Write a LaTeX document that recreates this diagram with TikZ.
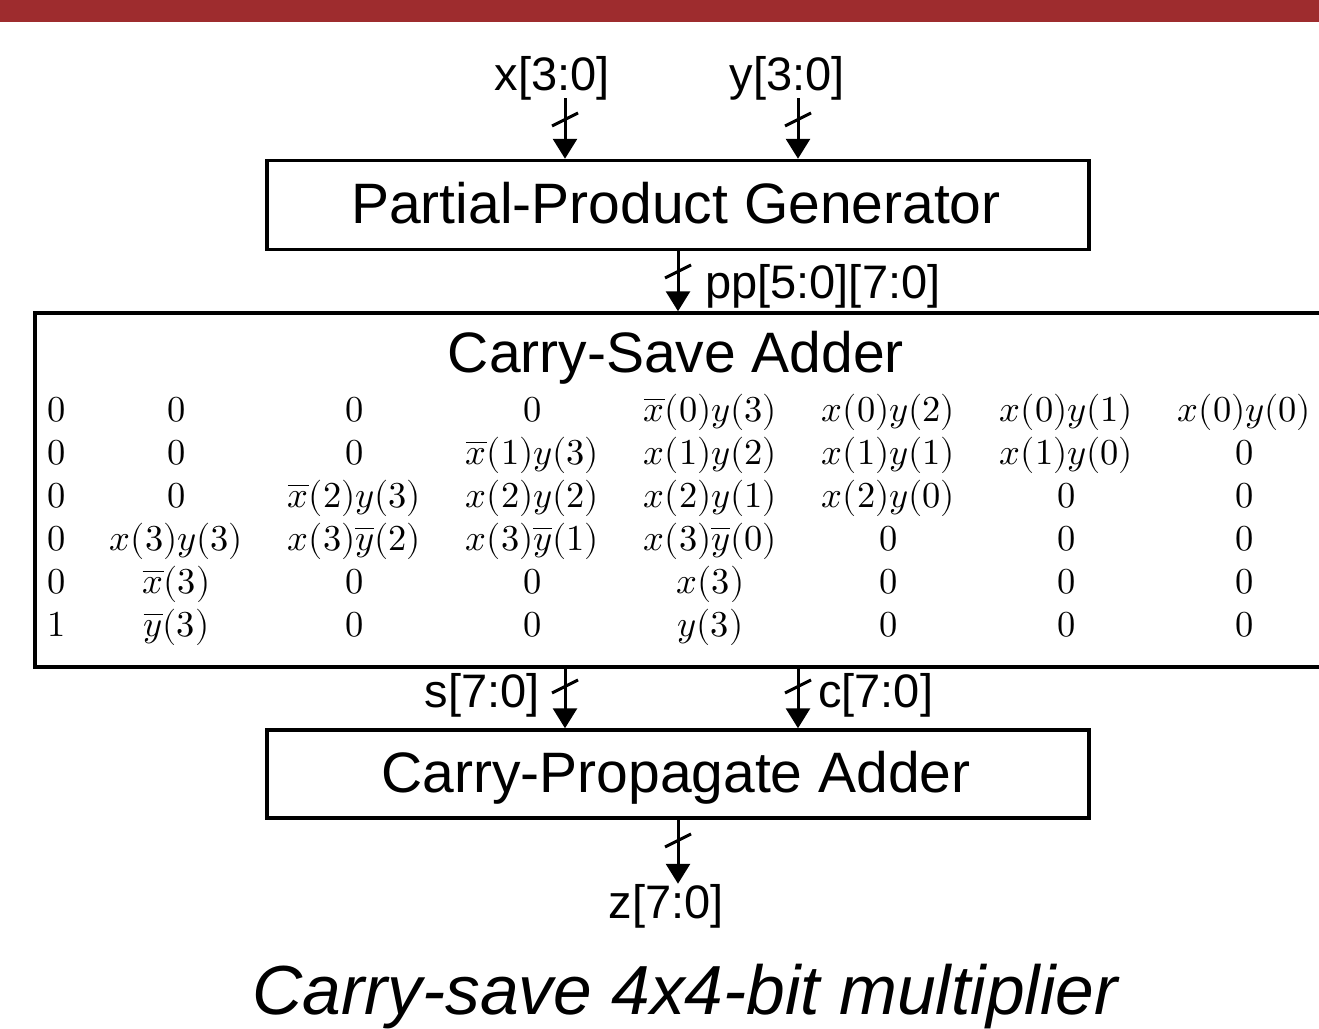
\documentclass[tikz,border=0pt]{standalone}
\usepackage{fontspec}
\setmainfont{Liberation Sans}
\usepackage{unicode-math}
\setmathfont{Latin Modern Math}
\usetikzlibrary{arrows.meta}
\definecolor{barred}{RGB}{158,44,46}
\begin{document}
\begin{tikzpicture}[x=1pt,y=-1pt,
  blk/.style={draw,line width=3.5pt,inner sep=0pt},
  bus/.style={line width=3pt,-{Triangle[length=20pt,width=24pt]}},
  slashst/.style={line width=3pt},
  lbl/.style={font=\fontsize{47}{50}\selectfont,inner sep=0pt,anchor=base},
  ttl/.style={font=\fontsize{57}{60}\selectfont,inner sep=0pt,anchor=base},
  cell/.style={font=\fontsize{36.5}{40}\selectfont,inner sep=0pt,anchor=base}]
\useasboundingbox (0,0) rectangle (1319,1028);
\clip (0,0) rectangle (1319,1028);
\fill[barred] (0,0) rectangle (1319,22);
% boxes
\node[blk,minimum width=822pt,minimum height=89pt] (ppg) at (678,205) {};
\node[blk,minimum width=1330pt,minimum height=354pt] (csa) at (700,490) {};
\node[blk,minimum width=822pt,minimum height=88pt] (cpa) at (678,774) {};
% titles
\node[ttl] (ppgt) at (676,223) {Partial-Product Generator};
\node[ttl] (csat) at (676,372) {Carry-Save Adder};
\node[ttl] (cpat) at (676,792) {Carry-Propagate Adder};
% labels
\node[lbl] (xl) at (552,90) {x[3:0]};
\node[lbl] (yl) at (787,90) {y[3:0]};
\node[lbl,anchor=base west] (ppl) at (705,298) {pp[5:0][7:0]};
\node[lbl,anchor=base east] (sl) at (540,707) {s[7:0]};
\node[lbl,anchor=base west] (cl) at (818,707) {c[7:0]};
\node[lbl] (zl) at (666,918) {z[7:0]};
% arrows
\coordinate (xs) at (565,98);
\coordinate (ys) at (798,98);
\coordinate (pps) at (678,250);
\coordinate (ss) at (565,667);
\coordinate (cs) at (798,667);
\coordinate (zs) at (678,818);
\draw[bus] (xs) -- (xs |- ppg.north);
\draw[bus] (ys) -- (ys |- ppg.north);
\draw[bus] (pps) -- (pps |- csa.north);
\draw[bus] (ss) -- (ss |- cpa.north);
\draw[bus] (cs) -- (cs |- cpa.north);
\draw[bus] (zs) -- (zs |- zl.north);
% slashes
\coordinate (xm) at (565,119);
\coordinate (ym) at (798,119);
\coordinate (ppm) at (678,271);
\coordinate (sm) at (565,686);
\coordinate (cm) at (798,686);
\coordinate (zm) at (678,840);
\foreach \m in {xm,ym,ppm,sm,cm,zm}
  \draw[slashst] ([shift={(-13,7)}]\m) -- ([shift={(13,-6)}]\m);
% table
\def\rowy{{421,464,507,550,593,636}}
\foreach \txt [count=\i] in {0,0,0,0,0,1}
  \node[cell,anchor=base west] (c\i-0) at (47,{\rowy[\i-1]}) {$\txt$};
\foreach \r/\c/\txt in {
 1/1/0, 1/2/0, 1/3/0, 1/4/\overline{x}(0)y(3), 1/5/x(0)y(2), 1/6/x(0)y(1), 1/7/x(0)y(0),
 2/1/0, 2/2/0, 2/3/\overline{x}(1)y(3), 2/4/x(1)y(2), 2/5/x(1)y(1), 2/6/x(1)y(0), 2/7/0,
 3/1/0, 3/2/\overline{x}(2)y(3), 3/3/x(2)y(2), 3/4/x(2)y(1), 3/5/x(2)y(0), 3/6/0, 3/7/0,
 4/1/x(3)y(3), 4/2/x(3)\overline{y}(2), 4/3/x(3)\overline{y}(1), 4/4/x(3)\overline{y}(0), 4/5/0, 4/6/0, 4/7/0,
 5/1/\overline{x}(3), 5/2/0, 5/3/0, 5/4/x(3), 5/5/0, 5/6/0, 5/7/0,
 6/1/\overline{y}(3), 6/2/0, 6/3/0, 6/4/y(3), 6/5/0, 6/6/0, 6/7/0}
  \node[cell] (c\r-\c) at ({176.5+178*(\c-1)},{\rowy[\r-1]}) {$\txt$};
% caption
\node[font=\fontsize{69.5}{72}\selectfont\itshape,inner sep=0pt,anchor=base] (cap) at (685,1014) {Carry-save 4x4-bit multiplier};
\end{tikzpicture}
\end{document}
